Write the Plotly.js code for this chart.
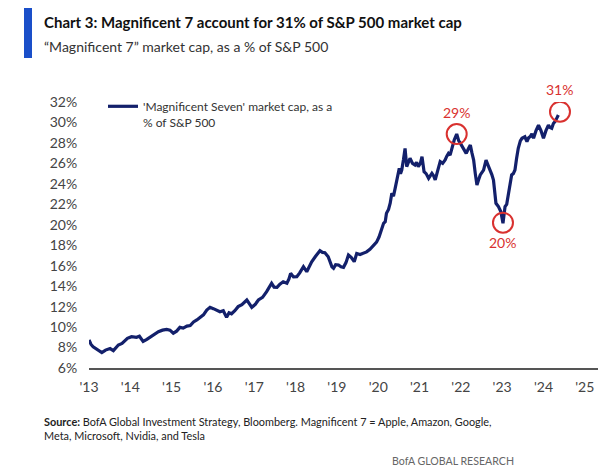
<!DOCTYPE html>
<html>
<head>
<meta charset="utf-8">
<script src="https://cdn.plot.ly/plotly-3.0.1.min.js"></script>
<style>
  html, body { margin: 0; padding: 0; background: #ffffff; }
  #chart { width: 604px; height: 468px; }
</style>
</head>
<body>
<div id="chart"></div>
<script>
// ---- Data ----
const years = [
  2013.00, 2013.05, 2013.10, 2013.20, 2013.31, 2013.40, 2013.51, 2013.59, 2013.71, 2013.80,
  2013.93, 2014.03, 2014.15, 2014.22, 2014.31, 2014.40, 2014.48, 2014.56, 2014.68, 2014.78,
  2014.88, 2014.96, 2015.04, 2015.12, 2015.20, 2015.28, 2015.37, 2015.45, 2015.53, 2015.61,
  2015.69, 2015.77, 2015.85, 2015.93, 2016.01, 2016.09, 2016.17, 2016.25, 2016.33, 2016.39,
  2016.45, 2016.53, 2016.61, 2016.70, 2016.82, 2016.88, 2016.94, 2017.02, 2017.10, 2017.20,
  2017.30, 2017.42, 2017.48, 2017.55, 2017.62, 2017.70, 2017.79, 2017.84, 2017.88, 2017.95,
  2018.03, 2018.10, 2018.19, 2018.27, 2018.33, 2018.39, 2018.48, 2018.55, 2018.59, 2018.65,
  2018.71, 2018.79, 2018.85, 2018.88, 2018.92, 2018.97, 2019.04, 2019.10, 2019.16, 2019.22,
  2019.28, 2019.35, 2019.42, 2019.48, 2019.56, 2019.64, 2019.72, 2019.80, 2019.88, 2019.96,
  2020.02, 2020.09, 2020.13, 2020.17, 2020.20, 2020.25, 2020.29, 2020.33, 2020.37, 2020.41,
  2020.45, 2020.51, 2020.54, 2020.57, 2020.61, 2020.65, 2020.69, 2020.73, 2020.77, 2020.83,
  2020.89, 2020.93, 2020.97, 2021.02, 2021.06, 2021.11, 2021.16, 2021.22, 2021.30, 2021.34,
  2021.38, 2021.44, 2021.50, 2021.56, 2021.62, 2021.66, 2021.70, 2021.74, 2021.78, 2021.84,
  2021.90, 2021.95, 2021.99, 2022.06, 2022.13, 2022.18, 2022.23, 2022.27, 2022.31, 2022.35,
  2022.39, 2022.43, 2022.47, 2022.55, 2022.61, 2022.66, 2022.71, 2022.75, 2022.79, 2022.85,
  2022.91, 2022.97, 2023.02, 2023.07, 2023.11, 2023.15, 2023.19, 2023.23, 2023.27, 2023.31,
  2023.35, 2023.39, 2023.44, 2023.48, 2023.55, 2023.60, 2023.64, 2023.68, 2023.72, 2023.76,
  2023.82, 2023.88, 2023.94, 2024.00, 2024.06, 2024.12, 2024.16, 2024.20, 2024.24, 2024.28,
  2024.32, 2024.36
];
const mag7Share = [
  8.74, 8.30, 8.08, 7.80, 7.50, 7.75, 7.90, 7.70, 8.25, 8.40,
  8.90, 9.06, 9.00, 9.10, 8.60, 8.80, 9.00, 9.20, 9.55, 9.70,
  9.77, 9.70, 9.40, 9.60, 9.97, 9.90, 10.10, 10.15, 10.50, 10.70,
  10.95, 11.20, 11.67, 11.93, 11.80, 11.67, 11.50, 11.60, 10.95, 11.40,
  11.30, 11.60, 12.00, 12.20, 12.65, 12.30, 11.93, 12.20, 12.65, 12.90,
  13.46, 14.28, 13.90, 13.89, 14.20, 14.43, 14.28, 14.70, 15.25, 14.90,
  14.92, 15.30, 15.90, 15.41, 16.00, 16.39, 16.90, 17.20, 17.47, 17.30,
  17.27, 16.88, 16.30, 15.90, 15.75, 16.10, 16.07, 15.90, 15.84, 16.30,
  17.05, 16.80, 16.39, 17.20, 17.10, 17.20, 17.35, 17.60, 17.90, 18.30,
  18.80, 19.60, 20.14, 20.30, 21.12, 21.50, 22.10, 23.08, 22.80, 23.56,
  24.38, 25.52, 25.00, 25.35, 26.33, 27.47, 25.68, 26.20, 26.50, 26.00,
  25.84, 26.10, 25.68, 26.00, 26.66, 25.19, 25.00, 24.54, 25.03, 24.80,
  24.38, 25.30, 26.17, 26.00, 26.33, 26.70, 26.98, 26.80, 27.47, 28.29,
  28.87, 28.20, 27.96, 27.47, 26.98, 27.40, 27.80, 27.00, 26.33, 25.00,
  23.89, 24.40, 24.87, 25.35, 26.33, 25.80, 25.35, 24.90, 24.38, 22.10,
  21.77, 21.28, 20.14, 21.77, 22.00, 23.08, 24.00, 24.87, 25.00, 25.35,
  26.50, 27.47, 28.20, 28.45, 28.60, 28.13, 28.50, 28.62, 28.90, 28.45,
  29.20, 29.75, 29.20, 28.45, 29.20, 29.75, 29.50, 29.43, 29.90, 30.08,
  30.40, 30.73
];
const seriesName = "'Magnificent Seven' market cap, as a<br>% of S&P 500";

// Highlighted points
const markX = [2021.90, 2023.02, 2024.40];
const markY = [28.87, 20.20, 31.05];
const markText = ['29%', '20%', '31%'];
const markAbove = [true, false, true];

// Axis ticks
const xTickVals = [2013, 2014, 2015, 2016, 2017, 2018, 2019, 2020, 2021, 2022, 2023, 2024, 2025];
const xTickText = ["'13", "'14", "'15", "'16", "'17", "'18", "'19", "'20", "'21", "'22", "'23", "'24", "'25"];
const yTickVals = [6, 8, 10, 12, 14, 16, 18, 20, 22, 24, 26, 28, 30, 32];
const yTickText = ['6%', '8%', '10%', '12%', '14%', '16%', '18%', '20%', '22%', '24%', '26%', '28%', '30%', '32%'];

const titleText = '<b>Chart 3: Magnificent 7 account for 31% of S&P 500 market cap</b>';
const subtitleText = '\u201CMagnificent 7\u201D market cap, as a % of S&P 500';
const sourceText = '<b>Source:</b> BofA Global Investment Strategy, Bloomberg. Magnificent 7 = Apple, Amazon, Google,<br>Meta, Microsoft, Nvidia, and Tesla';
const brandText = 'BofA GLOBAL RESEARCH';

// ---- Layout geometry ----
const W = 604, H = 468;
const M = { l: 89, r: 6, t: 102, b: 100 };
const PW = W - M.l - M.r, PH = H - M.t - M.b;
const px = x => (x - M.l) / PW;
const py = y => (H - M.b - y) / PH;

const FONT = 'Lato, "Liberation Sans", sans-serif';
const RED = '#d9312f';
const NAVY = '#13206b';

const trace = {
  x: years,
  y: mag7Share,
  type: 'scatter',
  mode: 'lines',
  name: seriesName,
  line: { color: NAVY, width: 3.2 },
  hoverinfo: 'skip'
};

const annotations = [
  { xref: 'paper', yref: 'paper', x: px(42), y: py(22), xanchor: 'left', yanchor: 'middle',
    text: titleText, showarrow: false, font: { family: FONT, size: 15, color: '#111' } },
  { xref: 'paper', yref: 'paper', x: px(42), y: py(47), xanchor: 'left', yanchor: 'middle',
    text: subtitleText, showarrow: false, font: { family: FONT, size: 14, color: '#333' } },
  { xref: 'paper', yref: 'paper', x: px(42), y: py(413), xanchor: 'left', yanchor: 'top', align: 'left',
    text: sourceText, showarrow: false, font: { family: FONT, size: 10.9, color: '#222' } },
  { xref: 'paper', yref: 'paper', x: px(516), y: py(461), xanchor: 'right', yanchor: 'middle',
    text: brandText, showarrow: false, font: { family: FONT, size: 10.6, color: '#666' } }
];
const shapes = [
  { type: 'rect', xref: 'paper', yref: 'paper', x0: px(24), x1: px(32), y0: py(58), y1: py(8),
    fillcolor: '#1a4fc9', line: { width: 0 } }
];
for (let i = 0; i < markX.length; i++) {
  shapes.push({
    type: 'circle', xref: 'x', yref: 'y', xsizemode: 'pixel', ysizemode: 'pixel',
    xanchor: markX[i], yanchor: markY[i], x0: -10, x1: 10, y0: -10, y1: 10,
    line: { color: RED, width: 2 }
  });
  annotations.push({
    xref: 'x', yref: 'y', x: markX[i], y: markY[i], showarrow: false,
    yshift: markAbove[i] ? 22 : -20, text: markText[i],
    font: { family: FONT, size: 14, color: RED }
  });
}

const layout = {
  width: W, height: H,
  margin: M,
  paper_bgcolor: '#ffffff', plot_bgcolor: '#ffffff',
  showlegend: true,
  legend: {
    x: px(103), y: py(92), xanchor: 'left', yanchor: 'top',
    bgcolor: 'rgba(0,0,0,0)', borderwidth: 0, valign: 'top',
    font: { family: FONT, size: 12, color: '#333' }
  },
  xaxis: {
    range: [2013, 2025.32], showgrid: false, zeroline: false,
    tickmode: 'array', tickvals: xTickVals, ticktext: xTickText,
    ticks: 'outside', ticklen: 6, tickcolor: 'rgba(0,0,0,0)',
    showline: true, linecolor: '#555', linewidth: 1.5,
    tickfont: { family: FONT, size: 14, color: '#444' }
  },
  yaxis: {
    range: [6, 32], showgrid: false, zeroline: false,
    tickmode: 'array', tickvals: yTickVals, ticktext: yTickText,
    ticks: 'outside', ticklen: 8, tickcolor: 'rgba(0,0,0,0)',
    showline: false,
    tickfont: { family: FONT, size: 14, color: '#444' }
  },
  annotations: annotations,
  shapes: shapes
};

Plotly.newPlot('chart', [trace], layout, { staticPlot: true, displayModeBar: false });
</script>
</body>
</html>
